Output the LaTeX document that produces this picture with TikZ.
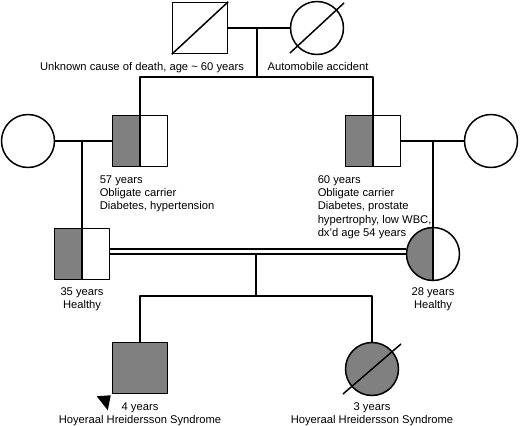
\documentclass[tikz,border=0pt]{standalone}
\usepackage{fontspec}
\setmainfont{Liberation Sans}
\definecolor{affgray}{RGB}{128,128,128}
\tikzset{
  male/.style={draw,rectangle,minimum width=55pt,minimum height=51pt,inner sep=0pt},
  female/.style={draw,circle,minimum size=53pt,inner sep=0pt},
  carrier/.style={path picture={
    \fill[affgray] (path picture bounding box.south west) rectangle (path picture bounding box.north);
    \draw (path picture bounding box.south) -- (path picture bounding box.north);}},
  affected/.style={fill=affgray},
  lbl/.style={inner sep=0pt,align=left,anchor=north west},
  lblc/.style={inner sep=0pt,align=center,anchor=north},
}
\begin{document}
\begin{tikzpicture}[x=1pt,y=-1pt,line width=1.5pt,line join=round,font=\fontsize{11.2}{13.2}\selectfont]
\useasboundingbox (0,0) rectangle (520,426);
% generation I
\node[male] (gf) at (200,28) {};
\node[female] (gm) at (317,28) {};
\draw (gf.south west) -- (gf.north east);
\draw ([shift={(-27,25)}]gm.center) -- ([shift={(27,-25)}]gm.center);
\node[lblc] (gfl) at (142,62) {Unknown cause of death, age \textasciitilde\ 60 years};
\node[lblc] (gml) at (318,62) {Automobile accident};
% generation II
\node[female] (lw) at (28,141) {};
\node[male,carrier] (lf) at (140,141) {};
\node[male,carrier] (rf) at (373,141) {};
\node[female] (rw) at (491,141) {};
\node[lbl] (lfl) at (99,175) {57 years\\Obligate carrier\\Diabetes, hypertension};
\node[lbl] (rfl) at (317,175) {60 years\\Obligate carrier\\Diabetes, prostate\\hypertrophy, low WBC,\\dx'd age 54 years};
% generation III
\node[male,carrier] (hb) at (82,254) {};
\node[female,carrier] (wf) at (433,254) {};
\node[lblc] (hbl) at (82,287) {35 years\\Healthy};
\node[lblc] (wfl) at (433,287) {28 years\\Healthy};
% generation IV
\node[male,affected] (son) at (140,368) {};
\node[female,affected] (dau) at (372,369) {};
\draw ([shift={(-29,25)}]dau.center) -- ([shift={(29,-25)}]dau.center);
\fill ([shift={(-1,1)}]son.south west) -- ++(-14,1) -- ++(11,14) -- cycle;
\node[lblc] (sonl) at (140,402) {4 years\\Hoyeraal Hreidersson Syndrome};
\node[lblc] (daul) at (372,402) {3 years\\Hoyeraal Hreidersson Syndrome};
% lines of descent
\coordinate (m1) at (257,28);
\coordinate (s1) at (257,77);
\draw (gf) -- (gm);
\draw (m1) -- (s1);
\draw (lf.north) |- (s1) -| (rf.north);
\coordinate (m2) at (82,141);
\coordinate (m3) at (433,141);
\draw (lw) -- (lf);
\draw (rf) -- (rw);
\draw (m2) -- (hb);
\draw (m3) -- (wf);
\draw[double,double distance=3.4pt] ([yshift=2.5pt]hb.east) -- ([yshift=2.5pt]hb.east -| wf.west);
\coordinate (m4) at (256,254);
\coordinate (s4) at (256,296);
\draw (m4) -- (s4);
\draw (son.north) |- (s4) -| (dau.north);
\end{tikzpicture}
\end{document}
